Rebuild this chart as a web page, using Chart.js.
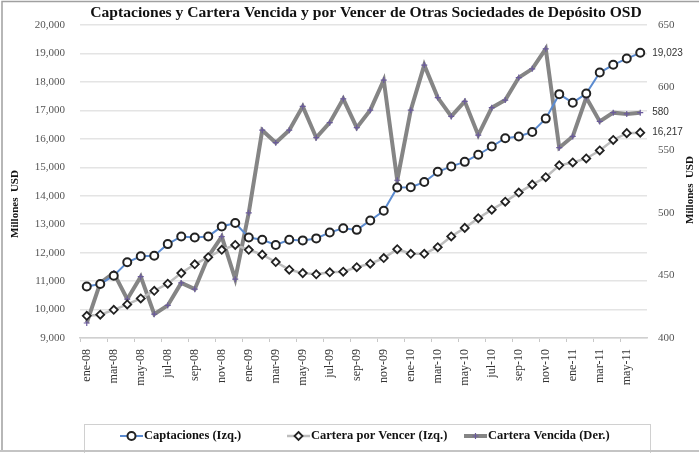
<!DOCTYPE html>
<html>
<head>
<meta charset="utf-8">
<script src="https://cdn.jsdelivr.net/npm/chart.js@4.4.0/dist/chart.umd.min.js"></script>
<style>
html, body { margin: 0; padding: 0; background: #fff; }
#wrap { width: 699px; height: 453px; }
</style>
</head>
<body>
<div id="wrap"><canvas id="box" width="699" height="453"></canvas></div>
<script>
var meses = [
  'ene-08','feb-08','mar-08','abr-08','may-08','jun-08','jul-08','ago-08','sep-08','oct-08','nov-08','dic-08',
  'ene-09','feb-09','mar-09','abr-09','may-09','jun-09','jul-09','ago-09','sep-09','oct-09','nov-09','dic-09',
  'ene-10','feb-10','mar-10','abr-10','may-10','jun-10','jul-10','ago-10','sep-10','oct-10','nov-10','dic-10',
  'ene-11','feb-11','mar-11','abr-11','may-11','jun-11'
];

// millones USD, eje izquierdo
var captaciones = [
  10810, 10900, 11190, 11660, 11870, 11890, 12300, 12570, 12530, 12570, 12920, 13040,
  12530, 12450, 12270, 12450, 12430, 12500, 12710, 12860, 12800, 13130, 13470, 14290,
  14300, 14480, 14840, 15030, 15190, 15440, 15730, 16020, 16080, 16240, 16710, 17570,
  17270, 17590, 18330, 18600, 18820, 19023
];
var porVencer = [
  9780, 9820, 9990, 10180, 10390, 10660, 10910, 11280, 11590, 11840, 12100, 12270,
  12100, 11930, 11670, 11400, 11280, 11240, 11310, 11330, 11490, 11610, 11810, 12120,
  11960, 11960, 12190, 12570, 12870, 13210, 13510, 13790, 14110, 14390, 14650, 15070,
  15170, 15310, 15590, 15960, 16200, 16217
];
// millones USD, eje derecho
var vencida = [
  412, 444, 452, 431, 449, 419, 426, 444, 439, 465, 481, 447,
  500, 566, 556, 566, 585, 560, 572, 591, 568, 582, 606, 526,
  582, 618, 592, 577, 589, 562, 584, 590, 608, 615, 631, 552,
  561, 592, 573, 580, 579, 580
];

var serif = '"Liberation Serif", "Times New Roman", serif';

function fmt(v) {
  return v.toLocaleString('en-US');
}

function marker(ctx, style, x, y) {
  ctx.save();
  if (style === 'circle') {
    ctx.beginPath();
    ctx.arc(x, y, 4, 0, Math.PI * 2);
    ctx.fillStyle = '#fff';
    ctx.fill();
    ctx.lineWidth = 2;
    ctx.strokeStyle = '#222';
    ctx.stroke();
  } else if (style === 'diamond') {
    ctx.beginPath();
    ctx.moveTo(x, y - 4);
    ctx.lineTo(x + 4, y);
    ctx.lineTo(x, y + 4);
    ctx.lineTo(x - 4, y);
    ctx.closePath();
    ctx.fillStyle = '#fff';
    ctx.fill();
    ctx.lineWidth = 1.8;
    ctx.strokeStyle = '#222';
    ctx.stroke();
  } else {
    ctx.beginPath();
    ctx.moveTo(x - 3, y);
    ctx.lineTo(x + 3, y);
    ctx.moveTo(x, y - 3);
    ctx.lineTo(x, y + 3);
    ctx.lineWidth = 1.2;
    ctx.strokeStyle = '#6a5a9c';
    ctx.stroke();
  }
  ctx.restore();
}

var extras = {
  id: 'extras',
  beforeDraw: function(chart) {
    var ctx = chart.ctx;
    ctx.save();
    ctx.fillStyle = '#fff';
    ctx.fillRect(0, 0, chart.width, chart.height);
    ctx.restore();
  },
  afterDraw: function(chart) {
    var ctx = chart.ctx;
    ctx.save();

    // titulo
    ctx.fillStyle = '#111';
    ctx.font = 'bold 15.6px ' + serif;
    ctx.textAlign = 'center';
    ctx.textBaseline = 'middle';
    ctx.fillText('Captaciones y Cartera Vencida y por Vencer de Otras Sociedades de Depósito OSD', 366, 13);

    // titulos de ejes
    ctx.font = 'bold 11px ' + serif;
    ctx.save();
    ctx.translate(15, 204);
    ctx.rotate(-Math.PI / 2);
    ctx.fillText('Millones  USD', 0, 0);
    ctx.restore();
    ctx.save();
    ctx.translate(690, 190);
    ctx.rotate(-Math.PI / 2);
    ctx.fillText('Millones  USD', 0, 0);
    ctx.restore();

    // etiquetas del ultimo dato
    ctx.font = '10px "Liberation Sans", Arial, sans-serif';
    ctx.fillStyle = '#333';
    ctx.textAlign = 'left';
    var last = meses.length - 1;
    var ends = [[0, captaciones[last]], [1, porVencer[last]], [2, vencida[last]]];
    ends.forEach(function(e) {
      var p = chart.getDatasetMeta(e[0]).data[last];
      ctx.fillText(fmt(e[1]), p.x + 12, p.y);
    });

    // leyenda
    ctx.strokeStyle = '#d0d0d0';
    ctx.lineWidth = 1;
    ctx.strokeRect(84.5, 424.5, 566, 30);
    var items = [
      { text: 'Captaciones (Izq.)', x: 143, color: '#5b8bd0', width: 2, style: 'circle' },
      { text: 'Cartera por Vencer (Izq.)', x: 310, color: '#bdbdbd', width: 2.5, style: 'diamond' },
      { text: 'Cartera Vencida (Der.)', x: 487, color: '#858585', width: 4, style: 'cross' }
    ];
    ctx.font = 'bold 12.5px ' + serif;
    ctx.textBaseline = 'middle';
    items.forEach(function(it) {
      var y = 436;
      ctx.beginPath();
      ctx.moveTo(it.x - 23, y);
      ctx.lineTo(it.x, y);
      ctx.strokeStyle = it.color;
      ctx.lineWidth = it.width;
      ctx.stroke();
      marker(ctx, it.style, it.x - 11.5, y);
      ctx.fillStyle = '#111';
      ctx.fillText(it.text, it.x + 1, y);
    });

    // marco
    ctx.strokeStyle = '#a0a0a0';
    ctx.lineWidth = 1.5;
    ctx.beginPath();
    ctx.moveTo(2, 451);
    ctx.lineTo(2, 1.5);
    ctx.lineTo(699, 1.5);
    ctx.stroke();
    ctx.strokeStyle = '#c4c4c4';
    ctx.lineWidth = 2;
    ctx.beginPath();
    ctx.moveTo(0, 451);
    ctx.lineTo(699, 451);
    ctx.stroke();

    ctx.restore();
  }
};

var mychart = new Chart('box', {
  type: 'line',
  data: {
    labels: meses,
    datasets: [
      {
        label: 'Captaciones (Izq.)',
        data: captaciones,
        yAxisID: 'y',
        borderColor: '#5b8bd0',
        borderWidth: 2,
        pointStyle: 'circle',
        pointRadius: 4,
        pointBorderWidth: 2,
        pointBorderColor: '#222',
        pointBackgroundColor: '#fff',
        tension: 0
      },
      {
        label: 'Cartera por Vencer (Izq.)',
        data: porVencer,
        yAxisID: 'y',
        borderColor: '#bdbdbd',
        borderWidth: 2.5,
        pointStyle: 'rectRot',
        pointRadius: 4,
        pointBorderWidth: 1.8,
        pointBorderColor: '#222',
        pointBackgroundColor: '#fff',
        tension: 0
      },
      {
        label: 'Cartera Vencida (Der.)',
        data: vencida,
        yAxisID: 'y1',
        borderColor: '#858585',
        borderWidth: 4,
        pointStyle: 'cross',
        pointRadius: 3,
        pointBorderWidth: 1.2,
        pointBorderColor: '#6a5a9c',
        tension: 0
      }
    ]
  },
  options: {
    responsive: false,
    animation: false,
    layout: { padding: { top: 25, left: 0, right: 0, bottom: 0 } },
    plugins: {
      legend: { display: false },
      title: { display: false },
      tooltip: { enabled: false }
    },
    scales: {
      x: {
        offset: true,
        afterFit: function(s) { s.height = 115; },
        border: { display: true, color: '#d0d0d0', width: 1.5 },
        grid: {
          offset: true,
          drawOnChartArea: false,
          drawTicks: true,
          tickLength: 4,
          color: function(c) { return c.index % 2 === 0 ? '#c8c8c8' : 'rgba(0,0,0,0)'; }
        },
        ticks: {
          autoSkip: false,
          minRotation: 90,
          maxRotation: 90,
          padding: 7,
          color: '#333',
          font: { family: serif, size: 12 },
          callback: function(v, i) { return i % 2 === 0 ? meses[i] : ''; }
        }
      },
      y: {
        position: 'left',
        min: 9000,
        max: 20000,
        afterFit: function(s) { s.width = 80; },
        border: { display: false },
        grid: { color: '#e4e4e4', lineWidth: 1.5, drawTicks: false },
        ticks: {
          stepSize: 1000,
          padding: 15,
          color: '#555',
          font: { family: serif, size: 11 },
          callback: function(v) { return fmt(v); }
        }
      },
      y1: {
        position: 'right',
        min: 400,
        max: 650,
        afterFit: function(s) { s.width = 52; },
        border: { display: false },
        grid: { drawOnChartArea: false, drawTicks: false },
        ticks: {
          stepSize: 50,
          padding: 11,
          color: '#555',
          font: { family: serif, size: 11 }
        }
      }
    }
  },
  plugins: [extras]
});
</script>
</body>
</html>
